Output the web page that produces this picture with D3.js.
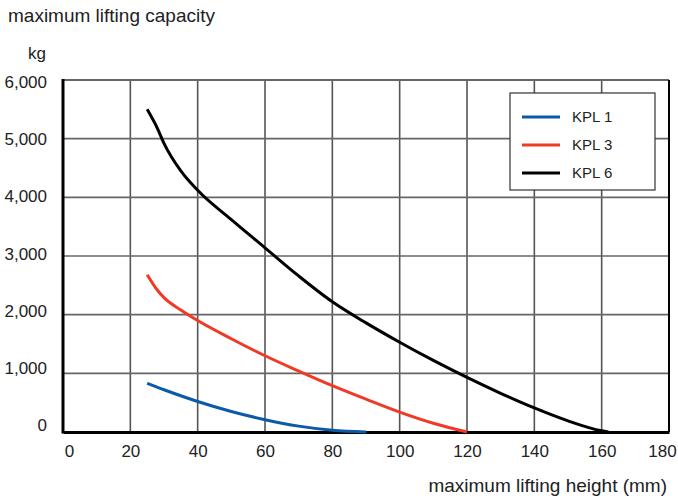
<!DOCTYPE html>
<html lang="en">
<head>
<meta charset="UTF-8" />
<title>maximum lifting capacity</title>
<script src="https://d3js.org/d3.v7.min.js"></script>
<style>
  body { margin: 0; background: #fff; }
  svg text { font-family: "Liberation Sans", "DejaVu Sans", sans-serif; fill: #222; }
</style>
</head>
<body>
<script>
// chart data
const xTicks = [0, 20, 40, 60, 80, 100, 120, 140, 160, 180];
const yTicks = [0, 1000, 2000, 3000, 4000, 5000, 6000];
const seriesNames = ["KPL 1", "KPL 3", "KPL 6"];
const seriesColors = ["#0a5aa8", "#f03a26", "#000000"];

const kpl1 = [[25, 830], [30, 720], [40, 520], [50, 350], [60, 210], [70, 100], [80, 30], [90, 0]];
const kpl3 = [[25, 2680], [28, 2420], [30, 2290], [35, 2080], [40, 1900], [50, 1590], [60, 1300], [70, 1040], [80, 790], [90, 560], [100, 340], [110, 150], [120, 0]];
const kpl6 = [[25, 5500], [28, 5180], [30, 4920], [35, 4450], [40, 4120], [50, 3620], [60, 3140], [70, 2660], [80, 2220], [90, 1860], [100, 1530], [110, 1220], [120, 930], [130, 660], [140, 410], [150, 190], [160, 20], [162, 0]];
const seriesData = [kpl1, kpl3, kpl6];

const W = 678, H = 500;
const x = d3.scaleLinear().domain([0, 180]).range([63, 669]);
const y = d3.scaleLinear().domain([0, 6000]).range([432, 80]);
// the tick labels sit on a slightly tighter spacing than the grid
const yLab = d3.scaleLinear().domain([0, 6000]).range([424.5, 81.5]);

const svg = d3.select("body").append("svg").attr("width", W).attr("height", H);

// titles
svg.append("text").attr("x", 8).attr("y", 22).style("font-size", "19px").text("maximum lifting capacity");
svg.append("text").attr("x", 46).attr("y", 59).attr("text-anchor", "end").style("font-size", "17px").text("kg");
svg.append("text").attr("x", 667).attr("y", 492).attr("text-anchor", "end").style("font-size", "19px").text("maximum lifting height (mm)");

// grid
const grid = svg.append("g");
grid.selectAll(".vg").data(xTicks.slice(1, -1)).enter().append("line")
  .attr("x1", d => x(d)).attr("x2", d => x(d))
  .attr("y1", y(6000)).attr("y2", y(0))
  .attr("stroke", "#555").attr("stroke-width", 1.6);
grid.selectAll(".hg").data(yTicks.slice(1, -1)).enter().append("line")
  .attr("x1", x(0)).attr("x2", x(180))
  .attr("y1", d => y(d)).attr("y2", d => y(d))
  .attr("stroke", "#666").attr("stroke-width", 1.6);

// frame
svg.append("line").attr("x1", x(0)).attr("x2", x(180)).attr("y1", y(6000)).attr("y2", y(6000))
  .attr("stroke", "#666").attr("stroke-width", 2);
svg.append("line").attr("x1", x(180)).attr("x2", x(180)).attr("y1", y(6000)).attr("y2", y(0))
  .attr("stroke", "#000").attr("stroke-width", 2);

// axes
const xAxis = d3.axisBottom(x).tickValues(xTicks).tickSize(0).tickPadding(10);
const yAxis = d3.axisLeft(yLab).tickValues(yTicks).tickSize(0).tickPadding(16)
  .tickFormat(d3.format(","));

const gx = svg.append("g").attr("transform", "translate(0," + y(0) + ")").call(xAxis);
const gy = svg.append("g").attr("transform", "translate(" + x(0) + ",0)").call(yAxis);
gy.select(".domain").remove();
svg.append("line").attr("x1", x(0)).attr("x2", x(0)).attr("y1", y(6000) - 1).attr("y2", y(0) + 1.5)
  .attr("stroke", "#000").attr("stroke-width", 3);
gx.select(".domain").attr("stroke", "#000").attr("stroke-width", 3);
[gx, gy].forEach(g => {
  g.selectAll("text").style("font-size", "17px").attr("fill", "#222")
    .style("font-family", "Liberation Sans, sans-serif");
});
gx.selectAll("text").attr("dy", "0.9em");
gx.selectAll(".tick").filter(d => d === 0).select("text").attr("dx", "6");
gx.selectAll(".tick").filter(d => d === 180).select("text").attr("dx", "-7");
gy.selectAll("text").attr("dy", "0.36em");

// curves
const line = d3.line().x(d => x(d[0])).y(d => y(d[1])).curve(d3.curveMonotoneX);
svg.selectAll(".series").data(seriesData).enter().append("path")
  .attr("d", d => line(d))
  .attr("fill", "none")
  .attr("stroke", (d, i) => seriesColors[i])
  .attr("stroke-width", 3);

// legend
const lg = svg.append("g");
lg.append("rect").attr("x", 510).attr("y", 93).attr("width", 145).attr("height", 97)
  .attr("fill", "#fff").attr("stroke", "#333").attr("stroke-width", 1.2);
const rows = lg.selectAll(".row").data(seriesNames).enter().append("g")
  .attr("transform", (d, i) => "translate(0," + (117 + i * 28) + ")");
rows.append("line").attr("x1", 522).attr("x2", 560).attr("y1", 0).attr("y2", 0)
  .attr("stroke", (d, i) => seriesColors[i]).attr("stroke-width", 3);
rows.append("text").attr("x", 572).attr("y", 0).attr("dy", "0.35em")
  .style("font-size", "15px").text(d => d);
</script>
</body>
</html>
